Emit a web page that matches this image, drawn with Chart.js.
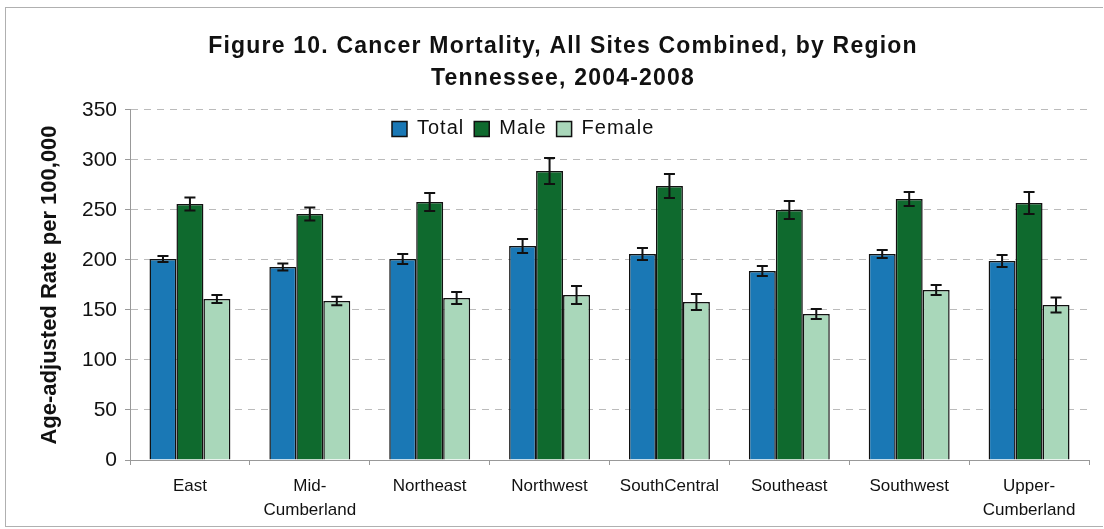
<!DOCTYPE html>
<html>
<head>
<meta charset="utf-8">
<script src="https://cdn.jsdelivr.net/npm/chart.js@4/dist/chart.umd.min.js"></script>
<style>
  body { margin: 0; background: #fff; }
  #wrap { position: relative; width: 1104px; height: 529px; }
  #frame { position: absolute; left: 5px; top: 7px; width: 1097px; height: 518px; border: 1px solid #b0b0b0; border-right: none; pointer-events: none; }
</style>
</head>
<body>
<div id="wrap">
  <canvas id="myBarChart" width="1104" height="529"></canvas>
  <div id="frame"></div>
</div>
<script>
const regions = ["East", ["Mid-", "Cumberland"], "Northeast", "Northwest", "SouthCentral", "Southeast", "Southwest", ["Upper-", "Cumberland"]];
const yTicks = [0, 50, 100, 150, 200, 250, 300, 350];

const totalRates = [201, 193, 201, 214, 206, 189, 206, 199];
const maleRates = [256, 246, 258, 289, 274, 250, 261, 257];
const femaleRates = [161, 159, 162, 165, 158, 146, 170, 155];

// half-width of the confidence interval
const totalErr = [3, 3.5, 5, 7, 6, 5, 4, 6];
const maleErr = [6.5, 6.5, 9, 13, 12, 9, 7, 11];
const femaleErr = [4, 4.3, 6, 9, 8, 5, 5, 7.5];

const sans = "'Liberation Sans', Arial, sans-serif";

// wider letter spacing for title and legend text, like the original figure
function spaced(El, spacing) {
  const draw = El.prototype.draw;
  El.prototype.draw = function (...args) {
    const prev = this.ctx.letterSpacing;
    this.ctx.letterSpacing = spacing;
    draw.apply(this, args);
    this.ctx.letterSpacing = prev;
  };
}
spaced(Chart.Title._element, "1.2px");
spaced(Chart.Legend._element, "1px");

// the legend sits inside the plot area, so it takes no room above it
const legendFit = Chart.Legend._element.prototype.fit;
Chart.Legend._element.prototype.fit = function () {
  legendFit.call(this);
  this.fullHeight = this.height;
  this.height = 0;
};

const placeBoxes = {
  id: "placeBoxes",
  afterLayout(chart) {
    const lg = chart.legend;
    lg.top = chart.chartArea.top - 1;
    lg.bottom = lg.top + lg.fullHeight;
    lg.height = lg.fullHeight;
    lg.left = 382;
    lg.right = 800;
    lg.width = lg.right - lg.left;
    chart.titleBlock.left += 37;
  },
};

// draws the error bars for each bar, using the y scale
const errorBars = {
  id: "errorBars",
  afterDatasetsDraw(chart) {
    const ctx = chart.ctx;
    const y = chart.scales.y;
    ctx.save();
    ctx.strokeStyle = "#111";
    ctx.lineWidth = 2;
    chart.data.datasets.forEach((ds, i) => {
      const meta = chart.getDatasetMeta(i);
      meta.data.forEach((bar, j) => {
        const v = ds.data[j];
        const e = ds.errors[j];
        const top = y.getPixelForValue(v + e);
        const bot = y.getPixelForValue(v - e);
        const x = bar.x;
        ctx.beginPath();
        ctx.moveTo(x, top); ctx.lineTo(x, bot);
        ctx.moveTo(x - 5.5, top); ctx.lineTo(x + 5.5, top);
        ctx.moveTo(x - 5.5, bot); ctx.lineTo(x + 5.5, bot);
        ctx.stroke();
      });
    });
    ctx.restore();
  },
};

new Chart(document.getElementById("myBarChart").getContext("2d"), {
  type: "bar",
  data: {
    labels: regions,
    datasets: [
      { label: "Total", data: totalRates, errors: totalErr, backgroundColor: "#1a78b5", borderColor: "#111", borderWidth: 1.5 },
      { label: "Male", data: maleRates, errors: maleErr, backgroundColor: "#0f6a2e", borderColor: "#111", borderWidth: 1.5 },
      { label: "Female", data: femaleRates, errors: femaleErr, backgroundColor: "#a9d7ba", borderColor: "#111", borderWidth: 1.5 },
    ],
  },
  options: {
    responsive: false,
    animation: false,
    layout: { padding: { left: 0, right: 15, top: 0, bottom: 4 } },
    datasets: { bar: { barPercentage: 1, categoryPercentage: 0.675 } },
    scales: {
      x: {
        type: "category",
        afterFit: (axis) => { axis.height = 65; },
        grid: { offset: true, drawOnChartArea: false, drawTicks: true, tickLength: 5, color: "#999" },
        border: { color: "#999" },
        ticks: { color: "#111", font: { family: sans, size: 17, lineHeight: 1.41 }, maxRotation: 0, autoSkip: false, padding: 9 },
      },
      y: {
        min: 0,
        max: 350,
        afterBuildTicks: (axis) => { axis.ticks = yTicks.map((v) => ({ value: v })); },
        afterFit: (axis) => { axis.width = 130; },
        grid: { color: "#bbb", tickLength: 5, tickColor: "#999" },
        border: { color: "#999", dash: [7, 6] },
        ticks: { color: "#111", font: { family: sans, size: 21 }, padding: 8 },
        title: {
          display: true,
          text: "Age-adjusted Rate per 100,000",
          color: "#111",
          font: { family: sans, size: 22, weight: "bold" },
          padding: { top: 37, bottom: 0 },
        },
      },
    },
    plugins: {
      title: {
        display: true,
        text: ["Figure 10. Cancer Mortality, All Sites Combined, by Region", "Tennessee, 2004-2008"],
        color: "#111",
        font: { family: sans, size: 23, weight: "bold", lineHeight: 1.39 },
        padding: { top: 31, bottom: 15 },
      },
      legend: {
        position: "top",
        align: "start",
        labels: {
          color: "#111",
          font: { family: sans, size: 20 },
          boxWidth: 15,
          boxHeight: 15,
          padding: 10,
        },
      },
      tooltip: { enabled: false },
    },
  },
  plugins: [placeBoxes, errorBars],
});
</script>
</body>
</html>
